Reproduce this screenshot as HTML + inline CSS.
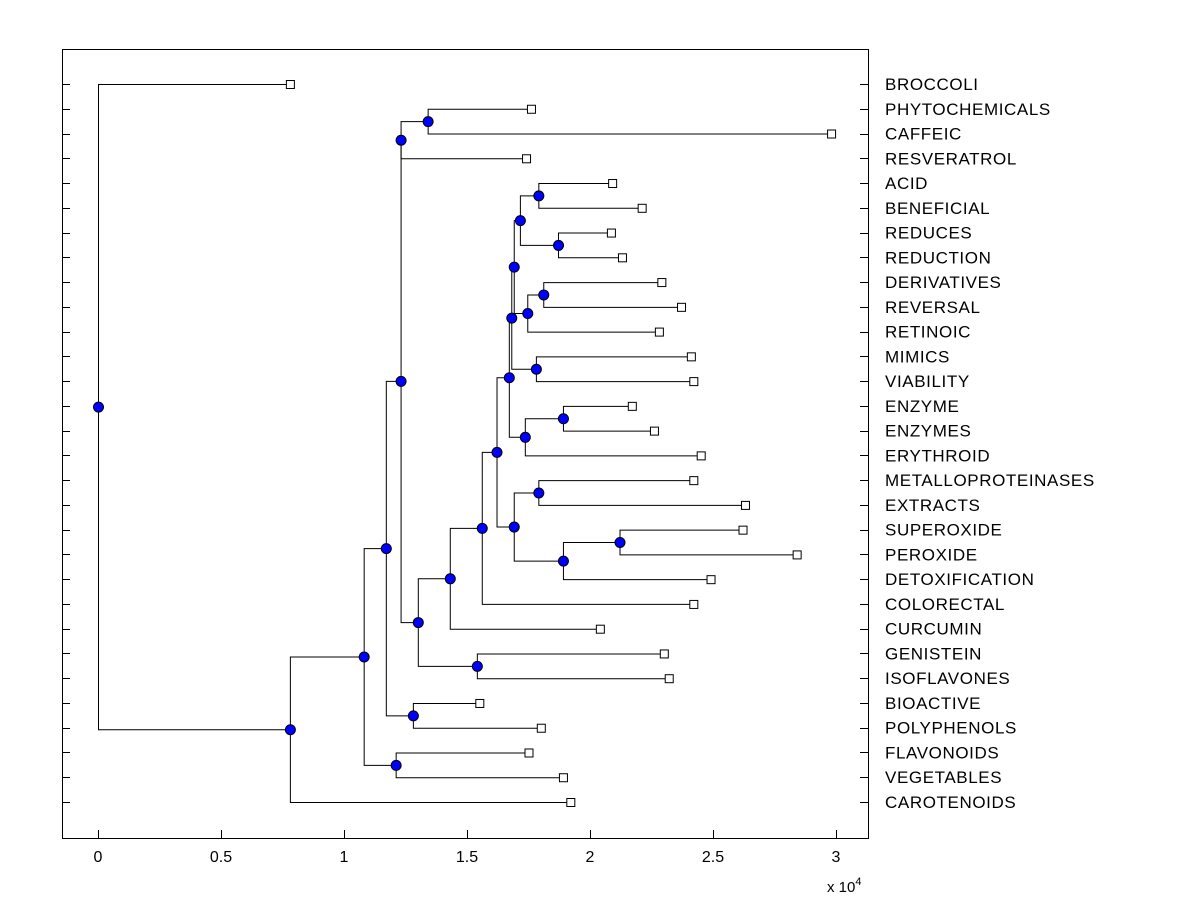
<!DOCTYPE html>
<html><head><meta charset="utf-8"><style>
html,body{margin:0;padding:0;background:#fff;}
svg{display:block;font-family:"Liberation Sans",Arial,sans-serif;}
</style></head><body>
<svg id="chart" width="1200" height="900" viewBox="0 0 1200 900"></svg>
<script>
// Leaf data (order top to bottom) and distances (x 10^4)
const leafNames = ["BROCCOLI","PHYTOCHEMICALS","CAFFEIC","RESVERATROL","ACID","BENEFICIAL","REDUCES","REDUCTION","DERIVATIVES","REVERSAL","RETINOIC","MIMICS","VIABILITY","ENZYME","ENZYMES","ERYTHROID","METALLOPROTEINASES","EXTRACTS","SUPEROXIDE","PEROXIDE","DETOXIFICATION","COLORECTAL","CURCUMIN","GENISTEIN","ISOFLAVONES","BIOACTIVE","POLYPHENOLS","FLAVONOIDS","VEGETABLES","CAROTENOIDS"];
const leafDist = [0.78,1.76,2.98,1.74,2.09,2.21,2.085,2.13,2.29,2.37,2.28,2.41,2.42,2.17,2.26,2.45,2.42,2.63,2.62,2.84,2.49,2.42,2.04,2.30,2.32,1.55,1.80,1.75,1.89,1.92];
// Internal nodes: children refer to leaves as "L<i>" and nodes by name
const nodeNames = ["PC","T","AB","RR","O","DR","P","N","MV","L","EE","M","I","ME","SP","K","J","H","G","F","GI","E","D","BP","C","FV","B","A","ROOT"];
const nodeLeft  = ["L1","PC","L4","L6","AB","L8","DR","O","L11","N","L13","EE","L","L16","L18","SP","ME","I","H","G","L23","F","T","L25","D","L27","C","B","L0"];
const nodeRight = ["L2","L3","L5","L7","RR","L9","L10","P","L12","MV","L14","L15","M","L17","L19","L20","K","J","L21","L22","L24","GI","E","L26","BP","L28","FV","L29","A"];
const nodeDist  = [1.34,1.23,1.79,1.87,1.715,1.81,1.745,1.69,1.78,1.68,1.89,1.735,1.67,1.79,2.12,1.89,1.69,1.62,1.56,1.43,1.54,1.30,1.23,1.28,1.17,1.21,1.08,0.78,0];
const xTicks = [0,0.5,1,1.5,2,2.5,3];
const xTickLabels = ["0","0.5","1","1.5","2","2.5","3"];

const NS="http://www.w3.org/2000/svg";
const svg=document.getElementById('chart');
const X0=62,X1=868,Y0=49,Y1=838;
const xs=v=>98+v*246;
const ys=i=>84+i*(802-84)/29;
function mk(t,a,p){const e=document.createElementNS(NS,t);for(const k in a)e.setAttribute(k,a[k]);(p||svg).appendChild(e);return e;}

const frame=mk('rect',{x:X0+0.5,y:Y0+0.5,width:X1-X0,height:Y1-Y0,fill:'#fff',stroke:'#000','stroke-width':1});



const pos={};
leafNames.forEach((n,i)=>{pos['L'+i]={x:xs(leafDist[i]),y:ys(i)};});
nodeNames.forEach((n,i)=>{const a=pos[nodeLeft[i]],b=pos[nodeRight[i]];pos[n]={x:xs(nodeDist[i]),y:(a.y+b.y)/2};});

const g=mk('g',{});


nodeNames.forEach((n,i)=>{
  const p=pos[n],a=pos[nodeLeft[i]],b=pos[nodeRight[i]];
  const path=mk('path',{d:`M${a.x} ${a.y+0.5}H${p.x+0.5}V${b.y+0.5}H${b.x}`,fill:'none',stroke:'#000','stroke-width':1},g);
  
  
});
leafNames.forEach((n,i)=>{
  const p=pos['L'+i];
  const r=mk('rect',{x:p.x-3.5,y:p.y-3.5,width:8,height:8,fill:'#fff',stroke:'#000','stroke-width':1});
  
  
  const y=Math.round(ys(i))+0.5;
  const t1=mk('line',{x1:X0,x2:X0+8,y1:y,y2:y,stroke:'#000'});
  
  
  const t2=mk('line',{x1:X1-8,x2:X1,y1:y,y2:y,stroke:'#000'});
  
  
  const tx=mk('text',{x:885,y:ys(i)+6,'font-size':17,'letter-spacing':0.6,fill:'#000'});
  tx.textContent=n;
  
  
});
nodeNames.forEach((n,i)=>{
  const p=pos[n];
  const c=mk('circle',{cx:p.x+0.5,cy:p.y+0.5,r:5,fill:'#0000ff',stroke:'#000','stroke-width':1});
  
  
});
xTicks.forEach((v,i)=>{
  const x=Math.round(xs(v))+0.5;
  const l=mk('line',{x1:x,x2:x,y1:Y1-8,y2:Y1,stroke:'#000'});
  
  
  const t=mk('text',{x:xs(v),y:862,'font-size':16,'text-anchor':'middle',fill:'#000'});
  t.textContent=xTickLabels[i];
  
  
});
const ex=mk('text',{x:827,y:892,'font-size':15,fill:'#000'});
ex.innerHTML='x 10<tspan dy="-7" font-size="11">4</tspan>';


</script>
</body></html>
